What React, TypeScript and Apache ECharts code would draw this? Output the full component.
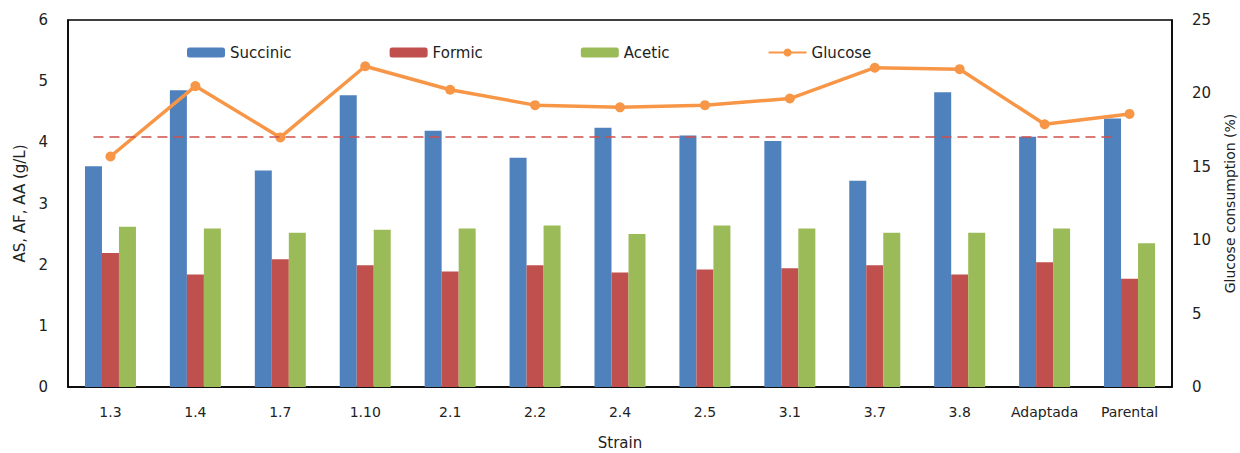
import React, { useEffect, useRef } from "react";
import * as echarts from "echarts";

const strains = ["1.3", "1.4", "1.7", "1.10", "2.1", "2.2", "2.4", "2.5", "3.1", "3.7", "3.8", "Adaptada", "Parental"];
const succinic = [3.61, 4.85, 3.54, 4.77, 4.19, 3.75, 4.24, 4.11, 4.02, 3.37, 4.82, 4.09, 4.39];
const formic = [2.19, 1.84, 2.09, 1.99, 1.89, 1.99, 1.87, 1.92, 1.94, 1.99, 1.84, 2.04, 1.77];
const acetic = [2.62, 2.59, 2.52, 2.57, 2.59, 2.64, 2.5, 2.64, 2.59, 2.52, 2.52, 2.59, 2.35];
const glucose = [15.7, 20.5, 17.0, 21.85, 20.25, 19.2, 19.05, 19.2, 19.65, 21.75, 21.65, 17.9, 18.6];
const referenceLevel = 4.09;

const FONT = "DejaVu Sans";

export default function App() {
  const ref = useRef<HTMLDivElement>(null);
  useEffect(() => {
    if (!ref.current) return;
    const chart = echarts.init(ref.current, null, { renderer: "svg" });
    chart.setOption({
      animation: false,
      backgroundColor: "#ffffff",
      textStyle: { fontFamily: FONT },
      legend: {
        data: ["Succinic", "Formic", "Acetic", "Glucose"],
        left: 182,
        top: 40,
        itemWidth: 38,
        itemHeight: 10,
        itemGap: 98,
        textStyle: { fontFamily: FONT, fontSize: 15, color: "#222" },
      },
      grid: {
        left: 68,
        right: 68,
        top: 20,
        bottom: 66,
        containLabel: false,
        outerBoundsMode: "none",
        show: true,
        borderColor: "#000",
        borderWidth: 1.5,
      },
      xAxis: {
        type: "category",
        data: strains,
        name: "Strain",
        nameLocation: "middle",
        nameGap: 48,
        nameTextStyle: { fontFamily: FONT, fontSize: 15, color: "#222" },
        axisLine: { lineStyle: { color: "#000", width: 1.5 } },
        axisTick: { show: false },
        axisLabel: { fontFamily: FONT, fontSize: 14, color: "#222", margin: 18, interval: 0 },
      },
      yAxis: [
        {
          type: "value",
          min: 0,
          max: 6,
          interval: 1,
          name: "AS, AF, AA (g/L)",
          nameLocation: "middle",
          nameGap: 40,
          nameTextStyle: { fontFamily: FONT, fontSize: 15, color: "#222" },
          axisLine: { show: true, lineStyle: { color: "#000", width: 1.5 } },
          axisTick: { show: false },
          splitLine: { show: false },
          axisLabel: { fontFamily: FONT, fontSize: 15, color: "#222", margin: 20 },
        },
        {
          type: "value",
          min: 0,
          max: 25,
          interval: 5,
          name: "Glucose consumption (%)",
          nameLocation: "middle",
          nameGap: 51,
          nameRotate: 90,
          nameTextStyle: { fontFamily: FONT, fontSize: 14, color: "#222" },
          axisLine: { show: true, lineStyle: { color: "#000", width: 1.5 } },
          axisTick: { show: false },
          splitLine: { show: false },
          axisLabel: { fontFamily: FONT, fontSize: 15, color: "#222", margin: 20 },
        },
      ],
      series: [
        {
          name: "Succinic",
          type: "bar",
          data: succinic,
          barWidth: 17,
          barGap: "0%",
          itemStyle: { color: "#4F81BD" },
          markLine: {
            silent: true,
            symbol: "none",
            label: { show: false },
            lineStyle: { type: [10, 6], color: "#D0504D", width: 1.5 },
            data: [[{ coord: [strains[0], referenceLevel] }, { coord: [strains[strains.length - 1], referenceLevel] }]],
          },
        },
        {
          name: "Formic",
          type: "bar",
          data: formic,
          barWidth: 17,
          barGap: "0%",
          itemStyle: { color: "#C0504D" },
        },
        {
          name: "Acetic",
          type: "bar",
          data: acetic,
          barWidth: 17,
          barGap: "0%",
          itemStyle: { color: "#9BBB59" },
        },
        {
          name: "Glucose",
          type: "line",
          yAxisIndex: 1,
          data: glucose,
          symbol: "circle",
          symbolSize: 10,
          lineStyle: { color: "#F79646", width: 3.5 },
          itemStyle: { color: "#F79646" },
        },
      ],
    });
    return () => chart.dispose();
  }, []);
  return (
    <div
      ref={ref}
      style={{ position: "fixed", left: 0, top: 0, width: 1240, height: 453, background: "#fff" }}
    />
  );
}
